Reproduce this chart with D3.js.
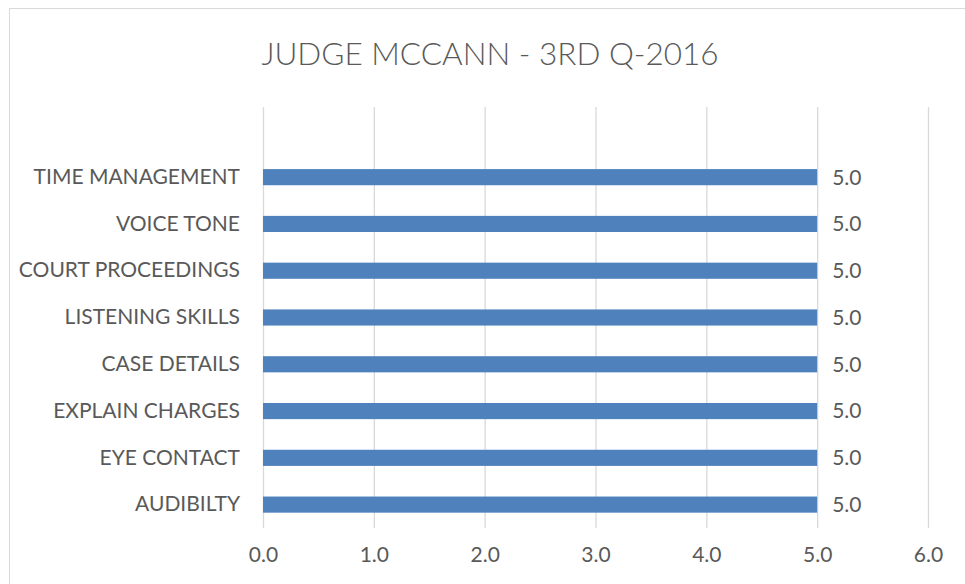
<!DOCTYPE html>
<html>
<head>
<meta charset="utf-8">
<script src="https://cdn.jsdelivr.net/npm/d3@7"></script>
<style>
  body { margin: 0; background: #fff; }
  svg text { font-family: Lato, "Open Sans", sans-serif; fill: #595959; }
</style>
</head>
<body>
<div class="wrapper-svg"></div>
<script>
// data
var categories = ['AUDIBILTY', 'EYE CONTACT', 'EXPLAIN CHARGES', 'CASE DETAILS',
    'LISTENING SKILLS', 'COURT PROCEEDINGS', 'VOICE TONE', 'TIME MANAGEMENT'];
var scores = [5.0, 5.0, 5.0, 5.0, 5.0, 5.0, 5.0, 5.0];
var ticks = [0, 1, 2, 3, 4, 5, 6];

var svg = d3.select('.wrapper-svg')
    .append('svg')
    .attr('width', 965)
    .attr('height', 584);

// chart frame
svg.append('rect')
    .attr('x', 9.5)
    .attr('y', 8.5)
    .attr('width', 1000)
    .attr('height', 700)
    .attr('fill', '#fff')
    .attr('stroke', '#d9d9d9');

svg.append('text')
    .text('JUDGE MCCANN - 3RD Q-2016')
    .attr('x', 490)
    .attr('y', 65)
    .attr('text-anchor', 'middle')
    .style('font-size', '31.5px')
    .style('font-weight', 300);

var plotTop = 107, plotBottom = 528;

var x = d3.scaleLinear()
    .domain([0, 6])
    .range([263, 928]);

// bars sit in the lower 8 of 9 slots, as in the original
var y = d3.scaleBand()
    .domain(categories)
    .range([plotBottom, plotTop + (plotBottom - plotTop) / 9])
    .paddingInner(0.655)
    .paddingOuter(0.3275);

// gridlines
svg.append('g')
    .selectAll('line')
    .data(ticks)
    .enter()
    .append('line')
    .attr('x1', function(d) { return x(d) + 0.5; })
    .attr('x2', function(d) { return x(d) + 0.5; })
    .attr('y1', plotTop)
    .attr('y2', plotBottom)
    .attr('stroke', '#d9d9d9')
    .attr('stroke-width', 1.3);

// x tick labels
var xAxis = svg.append('g')
    .attr('transform', 'translate(0,' + (plotBottom + 16) + ')')
    .call(d3.axisBottom(x).tickValues(ticks).tickFormat(d3.format('.1f')).tickSize(0));
xAxis.select('.domain').remove();
xAxis.selectAll('text')
    .style('font-size', '21px')
    .style('fill', '#595959');

// category labels
var yAxis = svg.append('g')
    .attr('transform', 'translate(' + 263 + ',0)')
    .call(d3.axisLeft(y).tickSize(0).tickPadding(23));
yAxis.select('.domain').remove();
yAxis.selectAll('text')
    .style('font-size', '21px')
    .style('fill', '#595959');

// bars
svg.append('g')
    .selectAll('rect')
    .data(scores)
    .enter()
    .append('rect')
    .attr('x', x(0))
    .attr('y', function(d, i) { return y(categories[i]); })
    .attr('width', function(d) { return x(d) - x(0); })
    .attr('height', y.bandwidth())
    .attr('fill', '#4f81bd');

// value labels
svg.append('g')
    .selectAll('text')
    .data(scores)
    .enter()
    .append('text')
    .text(function(d) { return d3.format('.1f')(d); })
    .attr('x', function(d) { return x(d) + 15; })
    .attr('y', function(d, i) { return y(categories[i]) + y.bandwidth() / 2; })
    .attr('dy', '0.35em')
    .style('font-size', '21px');
</script>
</body>
</html>
